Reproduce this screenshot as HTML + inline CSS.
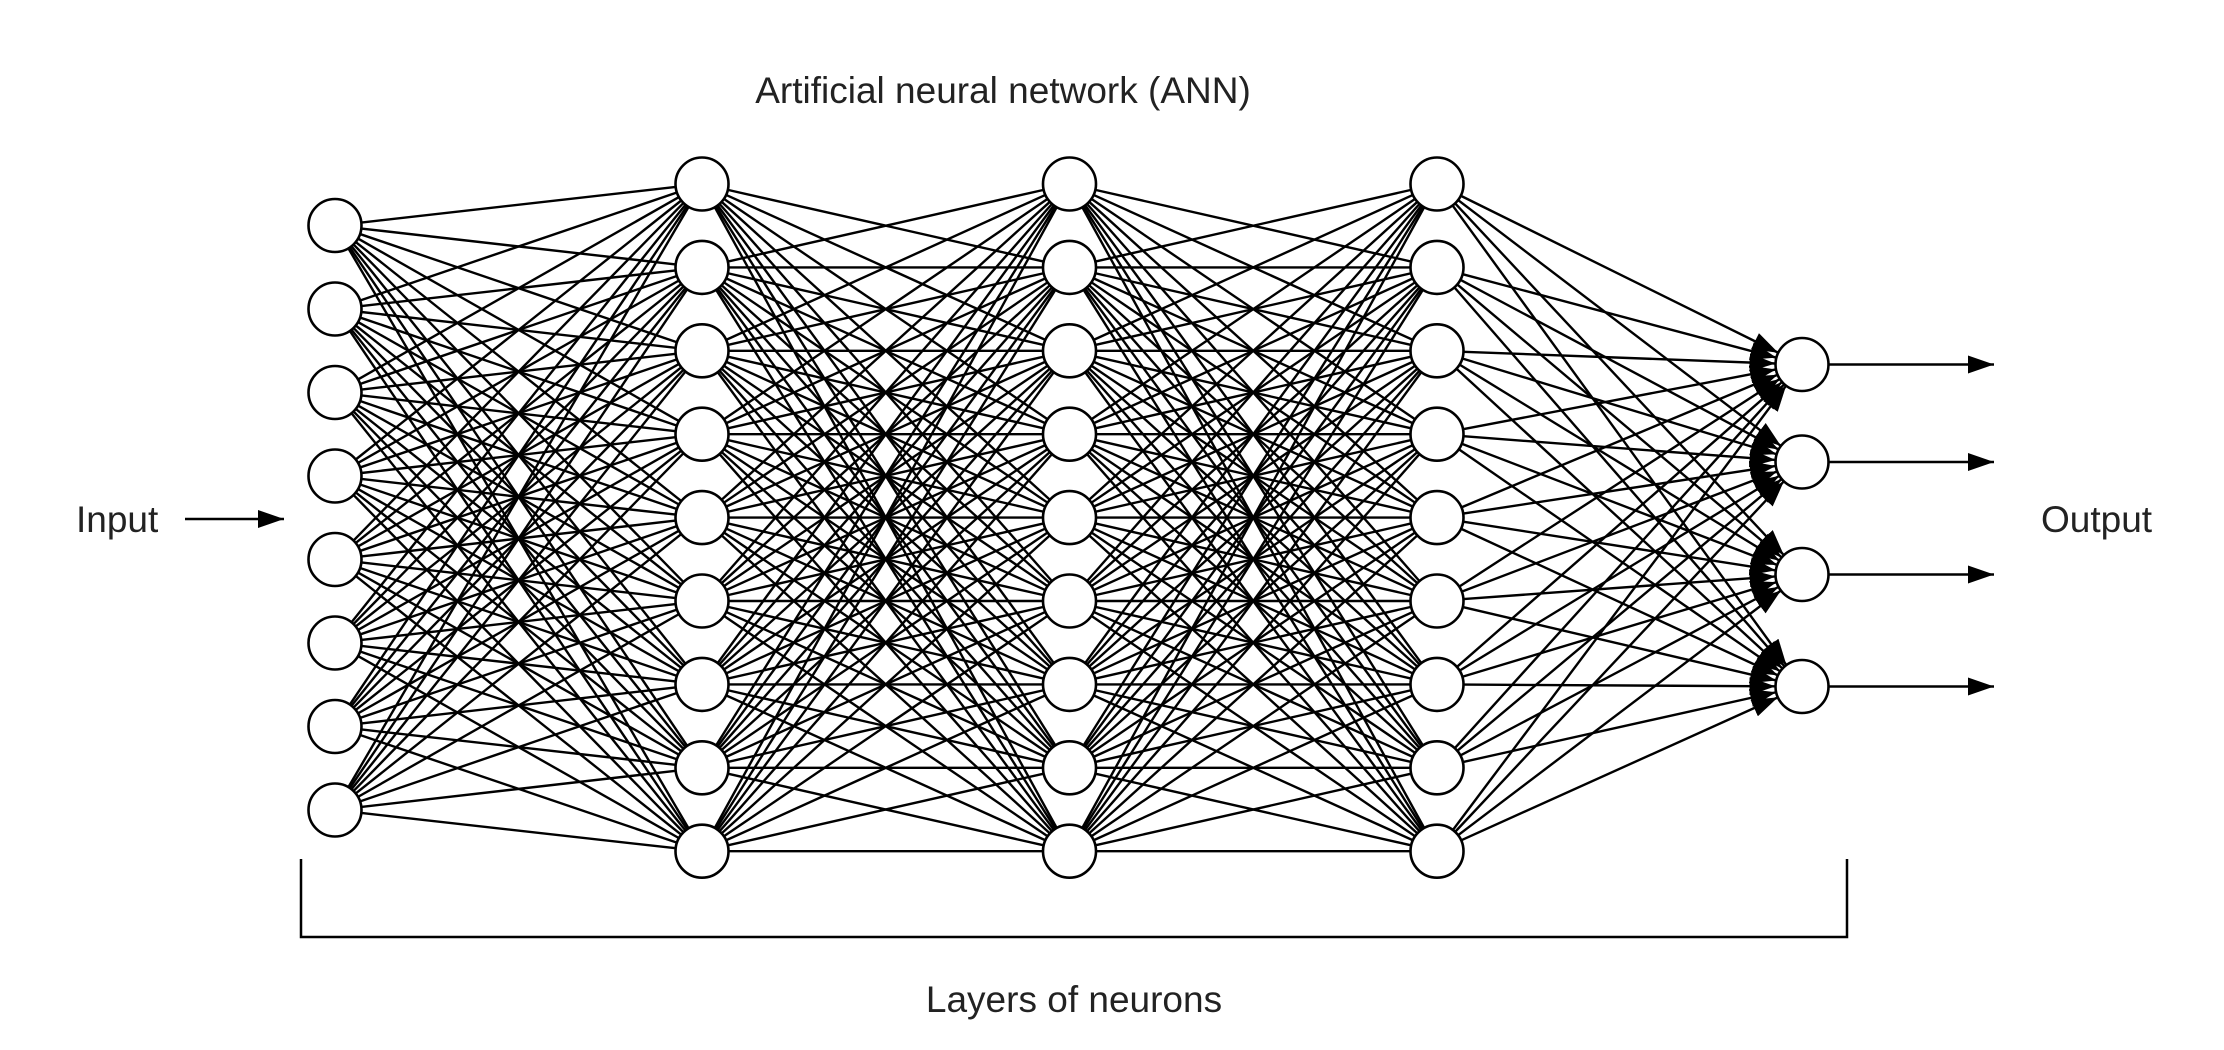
<!DOCTYPE html>
<html><head><meta charset="utf-8"><style>
html,body{margin:0;padding:0;background:#fff;}
svg{display:block;}
text{font-family:"Liberation Sans",Arial,sans-serif;fill:#222;font-size:37px;}
</style></head><body>
<svg id="s" width="2224" height="1050" viewBox="0 0 2224 1050" xmlns="http://www.w3.org/2000/svg">
<defs>
<marker id="a" markerUnits="userSpaceOnUse" markerWidth="28" markerHeight="18" refX="26" refY="9" orient="auto"><path d="M0,0 L26,9 L0,18 z" fill="#000"/></marker>
</defs>
<text x="1003" y="103" text-anchor="middle">Artificial neural network (ANN)</text>
<text x="76" y="532">Input</text>
<text x="2041" y="532">Output</text>
<text x="1074" y="1012" text-anchor="middle">Layers of neurons</text>
<line x1="185" y1="519" x2="284" y2="519" stroke="#000" stroke-width="2.5" marker-end="url(#a)"/>
<polyline points="301,859 301,937 1847,937 1847,859" fill="none" stroke="#000" stroke-width="2.5"/>
<g id="L" stroke="#000" stroke-width="2.4"></g>
<g id="C" stroke="#000" stroke-width="2.6" fill="#fff"></g>
</svg>
<script>
var R=26.5,NS="http://www.w3.org/2000/svg";
function col(x,y0,n,d){var a=[];for(var i=0;i<n;i++)a.push([x,y0+i*d]);return a;}
var layers=[col(335,225.5,8,83.5),col(702,184,9,83.4),col(1069.5,184,9,83.4),col(1437,184,9,83.4),
[[1802,364.5],[1802,462],[1802,574.5],[1802,686.5]]];
var L=document.getElementById('L'),C=document.getElementById('C');
function ln(x1,y1,x2,y2,m){var e=document.createElementNS(NS,'line');e.setAttribute('x1',x1);e.setAttribute('y1',y1);e.setAttribute('x2',x2);e.setAttribute('y2',y2);if(m)e.setAttribute('marker-end','url(#a)');L.appendChild(e);}
for(var k=0;k<4;k++){var A=layers[k],B=layers[k+1];
for(var i=0;i<A.length;i++)for(var j=0;j<B.length;j++){
if((k==1||k==2)&&i==0&&j==0)continue;
var dx=B[j][0]-A[i][0],dy=B[j][1]-A[i][1],l=Math.sqrt(dx*dx+dy*dy),ux=dx/l,uy=dy/l;
ln(A[i][0]+ux*R,A[i][1]+uy*R,B[j][0]-ux*R,B[j][1]-uy*R,k==3);}}
layers[4].forEach(function(p){ln(p[0]+R,p[1],1994,p[1],true);});
layers.forEach(function(A){A.forEach(function(p){var c=document.createElementNS(NS,'circle');c.setAttribute('cx',p[0]);c.setAttribute('cy',p[1]);c.setAttribute('r',R);C.appendChild(c);});});
</script>
</body></html>
